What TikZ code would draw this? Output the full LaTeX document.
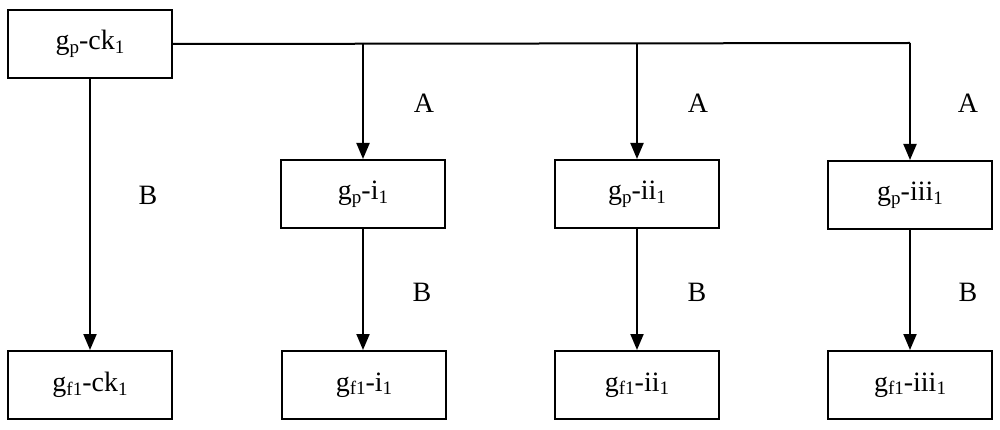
\documentclass[tikz,border=0pt]{standalone}
\usepackage{fontspec}
\setmainfont{Liberation Serif}
\usetikzlibrary{arrows.meta}
\newcommand{\sbs}[1]{\raisebox{-0.28ex}{\fontsize{19}{20}\selectfont #1}}
\begin{document}
\begin{tikzpicture}[x=1pt,y=-1pt,
  box/.style={draw,line width=2pt,minimum width=164pt,minimum height=68pt,inner sep=0pt,font=\fontsize{28}{30}\selectfont},
  conn/.style={line width=2pt},
  arr/.style={conn,-{Triangle[length=16pt,width=13pt]}},
  lab/.style={font=\fontsize{28}{30}\selectfont}]
\useasboundingbox (0,0) rectangle (1000,430);
\node[box] (ck) at (90,44) {g\sbs{p}-ck\sbs{1}};
\node[box] (fck) at (90,385) {g\sbs{f1}-ck\sbs{1}};
\node[box] (i) at (363,194) {g\sbs{p}-i\sbs{1}};
\node[box] (fi) at (364,385) {g\sbs{f1}-i\sbs{1}};
\node[box] (ii) at (637,194) {g\sbs{p}-ii\sbs{1}};
\node[box] (fii) at (637,385) {g\sbs{f1}-ii\sbs{1}};
\node[box] (iii) at (910,195) {g\sbs{p}-iii\sbs{1}};
\node[box] (fiii) at (910,385) {g\sbs{f1}-iii\sbs{1}};
\coordinate (c1) at (363,43);
\coordinate (c2) at (637,43);
\coordinate (c3) at (910,43);
\draw[conn] (ck.east) -- (c3);
\draw[arr] (c1) -- (i.north);
\draw[arr] (c2) -- (ii.north);
\draw[arr] (c3) -- (iii.north);
\draw[arr] (ck.south) -- (fck.north);
\draw[arr] (i.south) -- (fi.north -| i.south);
\draw[arr] (ii.south) -- (fii.north);
\draw[arr] (iii.south) -- (fiii.north);
\node[lab] (a1) at (424,103) {A};
\node[lab] (a2) at (698,103) {A};
\node[lab] (a3) at (968,103) {A};
\node[lab] (b0) at (148,195) {B};
\node[lab] (b1) at (422,292) {B};
\node[lab] (b2) at (697,292) {B};
\node[lab] (b3) at (968,292) {B};
\end{tikzpicture}
\end{document}
